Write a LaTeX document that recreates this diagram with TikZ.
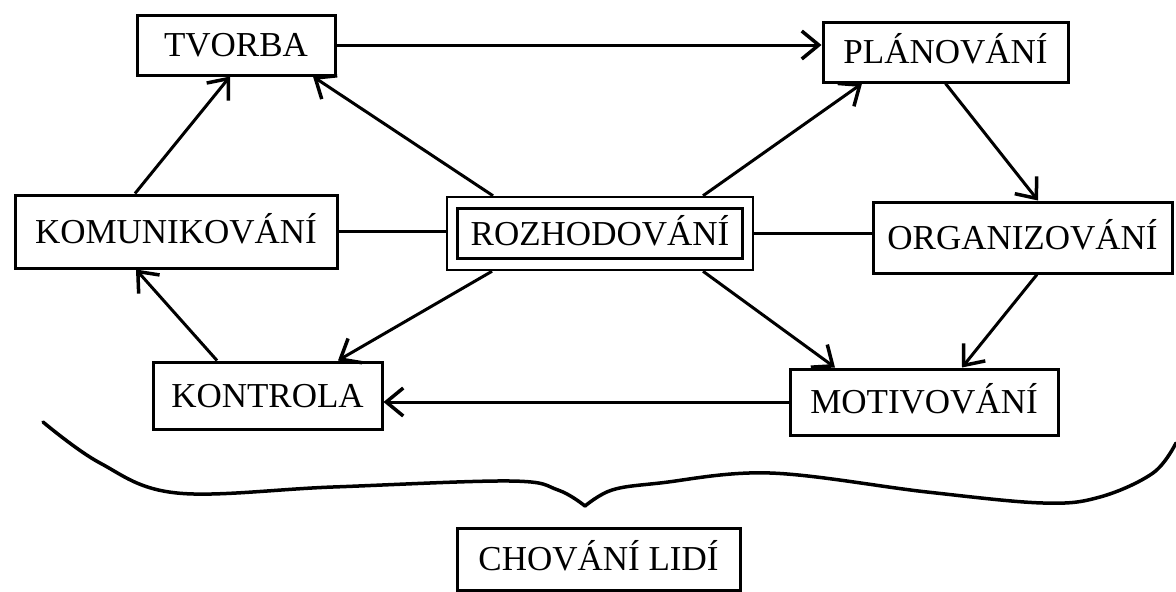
\documentclass[tikz,border=0pt]{standalone}
\usepackage{fontspec}
\setmainfont{Liberation Serif}
\usetikzlibrary{arrows.meta}
\begin{document}
\begin{tikzpicture}[x=1pt,y=-1pt,
  box/.style={draw,line width=3pt,rectangle,inner sep=0pt,
    font=\fontsize{35}{40}\selectfont,text height=23pt,text depth=0pt},
  arr/.style={line width=3pt,-{Straight Barb[length=17pt,width=28pt,line width=3.5pt]}},
  conn/.style={line width=3pt},
  brace/.style={line width=3.5pt,line cap=round,line join=round}]
\useasboundingbox (0,0) rectangle (1176,592);
\node[box,minimum width=198pt,minimum height=60pt] (tvorba) at (236,45) {TVORBA};
\node[box,minimum width=245pt,minimum height=60pt] (plan) at (945.5,52) {PLÁNOVÁNÍ};
\node[box,minimum width=299pt,minimum height=71pt] (org) at (1022.5,237.5) {ORGANIZOVÁNÍ};
\node[box,minimum width=322pt,minimum height=73pt] (kom) at (176,231.5) {KOMUNIKOVÁNÍ};
\node[box,line width=2.5pt,minimum width=306pt,minimum height=73pt] (rozhO) at (600,233.5) {};
\node[box,line width=2.5pt,minimum width=285pt,minimum height=50pt] (rozh) at (600,233.5) {ROZHODOVÁNÍ};
\node[box,minimum width=229pt,minimum height=67pt] (kont) at (267.5,395.5) {KONTROLA};
\node[box,minimum width=268pt,minimum height=66pt] (mot) at (924,402) {MOTIVOVÁNÍ};
\node[box,minimum width=283pt,minimum height=62pt] (chov) at (598.5,559) {CHOVÁNÍ LIDÍ};
% connectors
\draw[arr] (tvorba.east) -- (tvorba.east -| plan.west);
\draw[arr] ([xshift=-41pt]kom.north) -- ([xshift=-6pt]tvorba.south);
\draw[arr] ([xshift=-107pt]rozhO.north) -- ([xshift=77pt]tvorba.south);
\draw[arr] ([xshift=103pt]rozhO.north) -- ([xshift=-83.5pt]plan.south);
\draw[arr] (plan.south) -- ([xshift=15.5pt]org.north);
\draw[arr] ([xshift=14.5pt]org.south) -- ([xshift=38pt]mot.north);
\draw[arr] ([xshift=103pt]rozhO.south) -- ([xshift=-89pt]mot.north);
\draw[arr] ([xshift=-108pt]rozhO.south) -- ([xshift=70.5pt]kont.north);
\draw[arr] (mot.west) -- (mot.west -| kont.east);
\draw[arr] ([xshift=-50.5pt]kont.north) -- ([xshift=-40pt]kom.south);
\draw[conn] (kom.east) -- (kom.east -| rozhO.west);
\draw[conn] (rozhO.east) -- (rozhO.east -| org.west);
% brace
\draw[brace] plot[smooth,tension=0.6] coordinates {(43,422) (100,463) (177,493) (333,487) (510,481) (558,490) (585,506)};
\draw[brace] plot[smooth,tension=0.6] coordinates {(585,506) (612,490) (660,483) (770,473) (927,492) (1043,503) (1100,497) (1153,473) (1176,443)};
\end{tikzpicture}
\end{document}
